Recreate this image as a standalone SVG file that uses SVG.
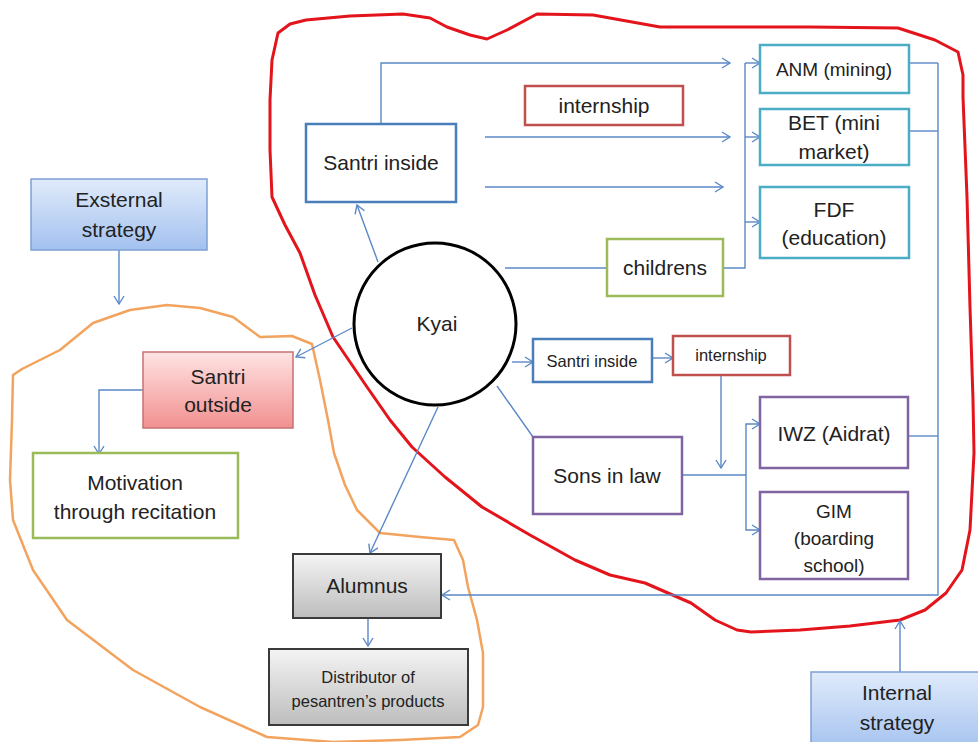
<svg xmlns="http://www.w3.org/2000/svg" width="978" height="742" viewBox="0 0 978 742">
<style>
text{font-family:"Liberation Sans",Arial,sans-serif;fill:#222;text-anchor:middle;font-size:21px}
.s{font-size:16.5px}
.m{font-size:19px}
.box{fill:#fff;stroke-width:2.5}
.blue{stroke:#4a7ebb}
.red{stroke:#c0504d}
.teal{stroke:#4bacc6}
.green{stroke:#9bbb59}
.purple{stroke:#8064a2}
.conn path{fill:none;stroke:#5b88c6;stroke-width:1.4}
.arr{marker-end:url(#ah)}
</style>
<defs>
<marker id="ah" markerUnits="userSpaceOnUse" orient="auto" overflow="visible" refX="0" refY="0" markerWidth="10" markerHeight="10">
<path d="M-8,-5 L0,0 L-8,5" fill="none" stroke="#5b88c6" stroke-width="1.4"/>
</marker>
<linearGradient id="gBlue" x1="0" y1="0" x2="0" y2="1"><stop offset="0" stop-color="#e0ebfb"/><stop offset="1" stop-color="#a3c1ef"/></linearGradient>
<linearGradient id="gPink" x1="0" y1="0" x2="0" y2="1"><stop offset="0" stop-color="#ffe3e3"/><stop offset="1" stop-color="#f29090"/></linearGradient>
<linearGradient id="gGray" x1="0" y1="0" x2="0" y2="1"><stop offset="0" stop-color="#f4f4f4"/><stop offset="1" stop-color="#bdbdbd"/></linearGradient>
</defs>
<rect width="978" height="742" fill="#fff"/>

<g id="blobs" fill="none" stroke-linejoin="round">
<path id="red-blob" stroke="#e3141b" stroke-width="3" d="M306,20 L350,16 L403,14 L430,18 L447,27 L470,35 L487,39 L507,30 L537,14 L593,15 L660,27 L719,27 L811,27 L898,28 L935,40 L958,52 L963,75 L963,97 L967,197 L970,307 L973,400 L974,453 L970,530 L962,570 L946,593 L925,610 L900,620 L850,626 L800,630 L751,632 L737,630 L715,620 L691,603 L645,583 L610,575 L575,560 L530,535 L482,507 L445,477 L412,447 L390,420 L367,387 L333,337 L315,295 L300,253 L285,225 L272,197 L270,150 L270,100 L272,60 L278,33 L290,24 Z"/>
<path id="orange-blob" stroke="#f2a35e" stroke-width="2.5" d="M167,305 L200,308 L233,317 L260,337 L292,336 L312,344 L320,380 L328,420 L334,453 L345,485 L357,510 L380,533 L420,537 L454,540 L463,560 L468,587 L477,620 L483,653 L483,707 L478,725 L460,737 L400,740 L333,742 L267,737 L200,707 L133,670 L67,620 L33,570 L13,520 L10,480 L12,420 L13,375 L22,369 L60,350 L93,323 L130,310 Z"/>
</g>

<g class="conn" id="connectors">
<path class="arr" d="M381,124 V63 H730"/>
<path class="arr" d="M485,137 H730"/>
<path class="arr" d="M485,187 H723"/>
<path d="M723,268 H745 V63"/>
<path class="arr" d="M745,63 H760"/>
<path class="arr" d="M745,137 H760"/>
<path class="arr" d="M745,222 H760"/>
<path d="M505,268 H607"/>
<path class="arr" d="M378,262 L357,205"/>
<path class="arr" d="M352,328 L296,357"/>
<path class="arr" d="M143,390 H99 V454"/>
<path class="arr" d="M119,250 V304"/>
<path class="arr" d="M438,407 L370,553"/>
<path class="arr" d="M512,362 H533"/>
<path class="arr" d="M652,358 H673"/>
<path class="arr" d="M721,375 V468"/>
<path d="M497,386 L533,437"/>
<path d="M682,475 H746"/>
<path class="arr" d="M746,475 V424 H760"/>
<path class="arr" d="M746,475 V530 H760"/>
<path d="M909,63 H938"/>
<path d="M909,131 H938"/>
<path d="M908,436 H938"/>
<path class="arr" d="M938,63 V595 H442"/>
<path class="arr" d="M368,618 V646"/>
<path class="arr" d="M900,672 V621"/>
</g>

<g id="santri-inside"><rect class="box blue" x="306" y="124" width="150" height="78"/><text x="381" y="170">Santri inside</text></g>
<g id="internship-top"><rect class="box red" x="525" y="86" width="158" height="39"/><text x="604" y="113">internship</text></g>
<g id="anm"><rect class="box teal" x="760" y="45" width="149" height="48"/><text class="m" x="834" y="76">ANM (mining)</text></g>
<g id="bet"><rect class="box teal" x="760" y="109" width="149" height="56"/><text x="834" y="130">BET (mini</text><text x="834" y="159">market)</text></g>
<g id="fdf"><rect class="box teal" x="760" y="187" width="149" height="71"/><text x="834" y="217">FDF</text><text x="834" y="245">(education)</text></g>
<g id="childrens"><rect class="box green" x="607" y="239" width="116" height="57"/><text x="665" y="275">childrens</text></g>
<g id="kyai"><circle cx="435" cy="324" r="81" fill="#fff" stroke="#000" stroke-width="3"/><text x="437" y="331">Kyai</text></g>
<g id="santri-inside-2"><rect class="box blue" x="533" y="339" width="119" height="43"/><text class="s" x="592" y="367">Santri inside</text></g>
<g id="internship-2"><rect class="box red" x="673" y="336" width="117" height="39"/><text class="s" x="731" y="361">internship</text></g>
<g id="sons-in-law"><rect class="box purple" x="533" y="437" width="149" height="77"/><text x="607" y="483">Sons in law</text></g>
<g id="iwz"><rect class="box purple" x="760" y="397" width="148" height="71"/><text x="834" y="441">IWZ (Aidrat)</text></g>
<g id="gim"><rect class="box purple" x="760" y="492" width="148" height="87"/><text class="m" x="834" y="518">GIM</text><text class="m" x="834" y="545">(boarding</text><text class="m" x="834" y="572">school)</text></g>
<g id="alumnus"><rect x="293" y="554" width="148" height="64" fill="url(#gGray)" stroke="#3a3a3a" stroke-width="2"/><text x="367" y="593">Alumnus</text></g>
<g id="distributor"><rect x="269" y="649" width="199" height="76" fill="url(#gGray)" stroke="#3a3a3a" stroke-width="2"/><text class="s" x="368" y="683">Distributor of</text><text class="s" x="368" y="707">pesantren’s products</text></g>
<g id="external-strategy"><rect x="31" y="179" width="176" height="71" fill="url(#gBlue)" stroke="#7da0d3" stroke-width="1.5"/><text x="119" y="207">Exsternal</text><text x="119" y="237">strategy</text></g>
<g id="santri-outside"><rect x="143" y="352" width="150" height="76" fill="url(#gPink)" stroke="#c77272" stroke-width="1.5"/><text x="218" y="384">Santri</text><text x="218" y="412">outside</text></g>
<g id="motivation"><rect class="box green" x="33" y="453" width="205" height="85"/><text x="135" y="490">Motivation</text><text x="135" y="519">through recitation</text></g>
<g id="internal-strategy"><rect x="811" y="672" width="172" height="80" fill="url(#gBlue)" stroke="#7da0d3" stroke-width="1.5"/><text x="897" y="700">Internal</text><text x="897" y="730">strategy</text></g>
</svg>
